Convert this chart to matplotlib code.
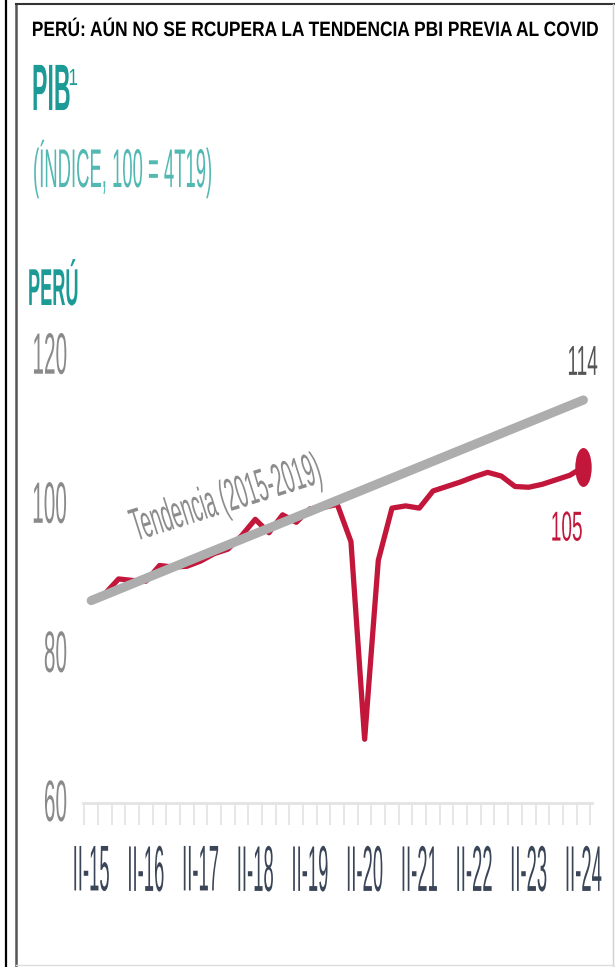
import numpy as np
import matplotlib
matplotlib.use('Agg')
from matplotlib import pyplot as plt
from matplotlib.lines import Line2D
from matplotlib.path import Path
from matplotlib.patheffects import AbstractPathEffect
from matplotlib.transforms import Affine2D

# PBI trimestral (índice, 100 = 4T19), de II-15 a II-24
pib = [87.0, 88.0, 90.0, 89.8, 89.7, 91.8, 91.6, 91.7, 92.4, 93.4,
       94.0, 95.8, 98.0, 96.2, 98.6, 97.6, 99.4, 99.6, 100.0, 95.0,
       68.5, 92.5, 99.5, 99.8, 99.5, 101.8, 102.4, 103.0, 103.7, 104.3,
       103.8, 102.4, 102.3, 102.7, 103.3, 103.9, 105.0]
# tendencia lineal 2015-2019 proyectada
trend_q = [0, 36]
trend_vals = [87.1, 114.0]
year_labels = ['II-15', 'II-16', 'II-17', 'II-18', 'II-19',
               'II-20', 'II-21', 'II-22', 'II-23', 'II-24']
y_ticks = [60, 80, 100, 120]

RED = '#c2173b'
GREY = '#adadad'
TEAL = '#1c9b96'
FONT = ['Liberation Sans', 'DejaVu Sans']


class Stretch(AbstractPathEffect):
    """Draw text glyphs taller than normal (condensed look)."""

    def __init__(self, factor, anchor='baseline'):
        super().__init__()
        self.factor = factor
        self.anchor = anchor

    def draw_path(self, renderer, gc, tpath, affine, rgbFace=None):
        ext = tpath.get_extents()
        y0 = {'baseline': 0.0, 'center': (ext.y0 + ext.y1) / 2,
              'top': ext.y1}[self.anchor]
        st = Affine2D().translate(0, -y0).scale(1, self.factor).translate(0, y0)
        renderer.draw_path(gc, tpath, st + affine, rgbFace)


fig = plt.figure(figsize=(6.15, 9.67), dpi=100)
ax = fig.add_axes([0.115, 0.170, 0.878, 0.478])

q = np.arange(len(pib))
ax.plot(q, pib, color=RED, lw=3.8, solid_capstyle='round',
        solid_joinstyle='round', zorder=2, clip_on=False)
ax.plot(trend_q, trend_vals, color=GREY, lw=6.6, solid_capstyle='round',
        zorder=3, clip_on=False)

# punto final alargado
ell = Path.unit_circle().transformed(Affine2D().scale(0.4, 1.0))
ax.plot(q[-1], pib[-1], marker=ell, ms=27, color=RED, zorder=4, clip_on=False)

ax.annotate(f'{trend_vals[-1]:.0f}', xy=(trend_q[-1], trend_vals[-1]),
            xytext=(-0.5, 27), textcoords='offset points', ha='center', va='center',
            fontsize=13.7, family=FONT, color='#555555',
            path_effects=[Stretch(2.2, 'center')])
ax.annotate(f'{pib[-1]:.0f}', xy=(q[-1], pib[-1]),
            xytext=(-12, -44), textcoords='offset points', ha='center', va='center',
            fontsize=13.7, family=FONT, color=RED,
            path_effects=[Stretch(2.2, 'center')])

label_q = 10
ax.annotate('Tendencia (2015-2019)',
            xy=(label_q, np.interp(label_q, trend_q, trend_vals)),
            xytext=(-1, 32), textcoords='offset points', rotation=17.5,
            rotation_mode='anchor', ha='center', va='center',
            fontsize=13.8, family=FONT, color='#8c8c8c',
            path_effects=[Stretch(2.4, 'center')])

ax.set_xlim(-1.5, 38)
ax.set_ylim(60, 122)
for s in ['top', 'right', 'left']:
    ax.spines[s].set_visible(False)
ax.spines['bottom'].set_color('#e4e4e4')
ax.spines['bottom'].set_linewidth(2)
ax.spines['bottom'].set_bounds(-0.6, 36.6)

ax.set_yticks(y_ticks)
ax.set_yticklabels([str(v) for v in y_ticks], fontsize=15, family=FONT,
                   color='#8a8a8a', va='center',
                   path_effects=[Stretch(2.8, 'center')])
ax.tick_params(axis='y', length=0, pad=2.5)

ax.set_xticks(np.arange(0, len(pib), 4))
ax.set_xticklabels(year_labels, fontsize=13.3, family=FONT, color='#3a4658',
                   path_effects=[Stretch(3.5, 'top')])
ax.set_xticks(np.arange(-0.5, len(pib), 1), minor=True)
ax.tick_params(axis='x', which='major', length=0, pad=31)
ax.tick_params(axis='x', which='minor', length=16, width=1.2,
               color='#e3e3e3', direction='out')

# encabezados
fig.text(0.512, 0.969, 'PERÚ: AÚN NO SE RCUPERA LA TENDENCIA PBI PREVIA AL COVID',
         ha='center', va='center', fontsize=12.5, weight='bold', family=FONT,
         color='black', path_effects=[Stretch(1.2, 'center')])
fig.text(0.052, 0.8862, 'PIB', ha='left', va='baseline', fontsize=16.7,
         weight='bold', family=FONT, color=TEAL,
         path_effects=[Stretch(2.83)])
fig.text(0.1115, 0.9121, '1', ha='left', va='baseline', fontsize=12,
         family=FONT, color=TEAL, path_effects=[Stretch(1.4)])
fig.text(0.0537, 0.8066, '(ÍNDICE, 100 = 4T19)', ha='left', va='baseline',
         fontsize=13.3, family=FONT, color='#52b8b2',
         path_effects=[Stretch(2.95)])
fig.text(0.0455, 0.6846, 'PERÚ', ha='left', va='baseline', fontsize=13.1,
         weight='bold', family=FONT, color=TEAL,
         path_effects=[Stretch(2.85)])

# marco
fig.add_artist(Line2D([0.0098, 0.0098], [0, 1], color='black', lw=1.6,
                      transform=fig.transFigure))
fig.add_artist(Line2D([0.026, 0.026], [0, 0.9959], color='#555555', lw=1.8,
                      transform=fig.transFigure))
fig.add_artist(Line2D([0.026, 1], [0.9959, 0.9959], color='#333333', lw=1.5,
                      transform=fig.transFigure))
fig.add_artist(Line2D([0.9967, 0.9967], [0, 0.9959], color='#d0d0d0', lw=1,
                      transform=fig.transFigure))
fig.add_artist(Line2D([0.026, 1], [0.002, 0.002], color='#dddddd', lw=1,
                      transform=fig.transFigure))

fig.savefig('out.png', dpi=100)
